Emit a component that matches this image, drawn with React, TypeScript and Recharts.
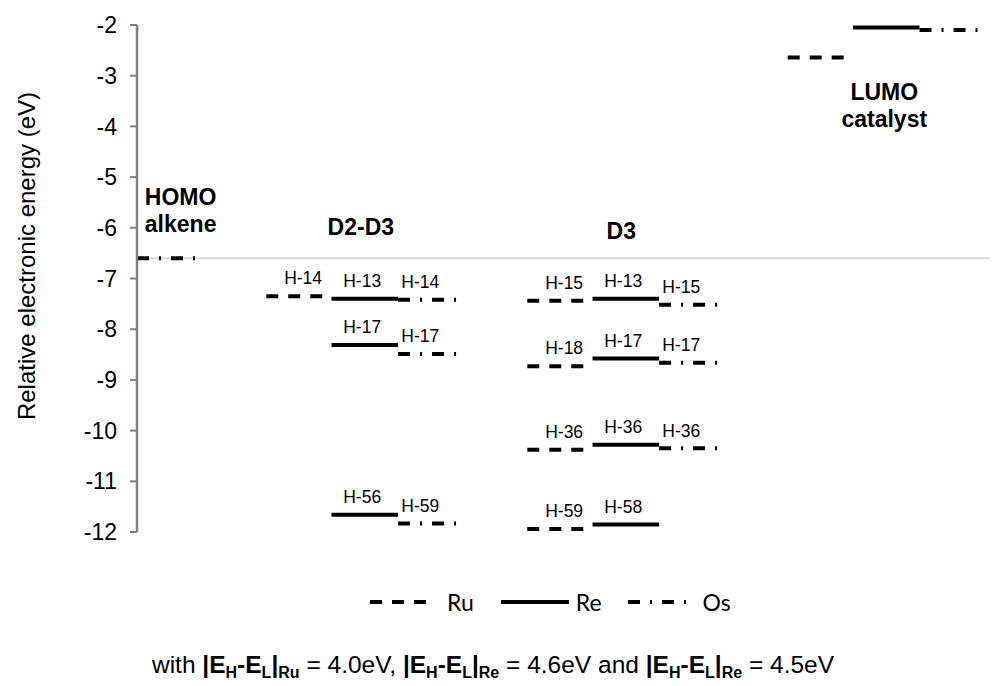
import { LineChart, Line, XAxis, YAxis } from 'recharts'

// x is in "slot" units along the diagram, y is energy in eV
const GROUP_START = [1.98, 5.98, 9.97] // D2-D3, D3, LUMO
const X_MAX = 13.07
const Y_MIN = -12
const Y_MAX = -2
const Y_TICKS = [-12, -11, -10, -9, -8, -7, -6, -5, -4, -3, -2]

const RU_ENERGY = [[-7.35], [-7.44, -8.73, -10.38, -11.94], [-2.64]]
const RU_LABELS = [['H-14'], ['H-15', 'H-18', 'H-36', 'H-59'], []]
const RE_ENERGY = [[-7.4, -8.31, -11.66], [-7.4, -8.58, -10.28, -11.85], [-2.05]]
const RE_LABELS = [['H-13', 'H-17', 'H-56'], ['H-13', 'H-17', 'H-36', 'H-58'], []]
const OS_ENERGY = [[-7.42, -8.49, -11.83], [-7.52, -8.66, -10.35], [-2.1]]
const OS_LABELS = [['H-14', 'H-17', 'H-59'], ['H-15', 'H-17', 'H-36'], []]

const HOMO_ALKENE = -6.6
const HOMO_SPAN = [0, 0.92]

const TITLES = [
  { x: 0.12, y: -5.55, lines: ['HOMO', 'alkene'], anchor: 'start' },
  { x: 3.43, y: -6.14, lines: ['D2-D3'], anchor: 'middle' },
  { x: 7.42, y: -6.22, lines: ['D3'], anchor: 'middle' },
  { x: 11.45, y: -3.48, lines: ['LUMO', 'catalyst'], anchor: 'middle' },
]

const FONT = '"Liberation Sans", Arial, sans-serif'
const AXIS_COLOR = 'rgb(128, 128, 128)'
const RU_DASH = '12 10'
const OS_DASH = '12 10 2 10'

const METALS = [
  { key: 'Ru', energy: RU_ENERGY, labels: RU_LABELS, span: [0, 0.87], dash: RU_DASH, shift: 0.13 },
  { key: 'Re', energy: RE_ENERGY, labels: RE_LABELS, span: [1.0, 2.02], dash: undefined, shift: -0.04 },
  { key: 'Os', energy: OS_ENERGY, labels: OS_LABELS, span: [2.02, 2.92], dash: OS_DASH, shift: -0.11 },
]

const segments: { id: string; dash?: string; data: { x: number; y: number }[] }[] = []
const levelLabels: { x: number; y: number; text: string }[] = []
METALS.forEach((m) => {
  m.energy.forEach((list, g) => {
    list.forEach((e, i) => {
      const x0 = GROUP_START[g] + m.span[0]
      const x1 = GROUP_START[g] + m.span[1]
      segments.push({ id: `${m.key}-${g}-${i}`, dash: m.dash, data: [{ x: x0, y: e }, { x: x1, y: e }] })
      const text = m.labels[g][i]
      if (text) levelLabels.push({ x: (x0 + x1) / 2 + m.shift, y: e, text })
    })
  })
})

// text drawn as the "dots" of invisible line series, so positions come from the chart scales
const LevelLabel = (props: any) => (
  <text key={`lvl-${props.index}`} x={props.cx} y={props.cy - 18} dy="0.355em" textAnchor="middle"
    fontFamily={FONT} fontSize={17.5} fill="#000">
    {props.payload.text}
  </text>
)

const Title = (props: any) => (
  <text key={`ttl-${props.index}`} x={props.cx} y={props.cy} textAnchor={props.payload.anchor}
    fontFamily={FONT} fontSize={23} fontWeight="bold" fill="#000">
    {props.payload.lines.map((l: string, i: number) => (
      <tspan key={l} x={props.cx} dy={i === 0 ? 0 : 27}>{l}</tspan>
    ))}
  </text>
)

const LegendItem = ({ dash, label, width, gap }: { dash?: string; label: string; width: number; gap: number }) => (
  <div style={{ display: 'flex', alignItems: 'center' }}>
    <svg width={width} height={10}>
      <line x1={0} y1={5} x2={width} y2={5} stroke="#000" strokeWidth={4} strokeDasharray={dash} />
    </svg>
    <span style={{ marginLeft: gap }}>{label}</span>
  </div>
)

const sub = { fontSize: 16, verticalAlign: -5 } as const

export default function App() {
  return (
    <div style={{ position: 'absolute', left: 0, top: 0, width: 992, height: 686, background: '#fff' }}>
      <LineChart width={992} height={686} margin={{ top: 25, right: 2, bottom: 154, left: 0 }}>
        <XAxis type="number" dataKey="x" domain={[0, X_MAX]} hide />
        <YAxis
          type="number"
          domain={[Y_MIN, Y_MAX]}
          ticks={Y_TICKS}
          width={137}
          tickSize={7}
          tickMargin={13}
          axisLine={{ stroke: AXIS_COLOR, strokeWidth: 2.5 }}
          tickLine={{ stroke: AXIS_COLOR, strokeWidth: 2 }}
          tick={{ fill: '#000', fontSize: 23, fontFamily: FONT }}
        />
        <Line
          data={[{ x: 0, y: HOMO_ALKENE }, { x: X_MAX, y: HOMO_ALKENE }]}
          dataKey="y" stroke="#d9d9d9" strokeWidth={2} dot={false} isAnimationActive={false}
        />
        <Line
          data={[{ x: HOMO_SPAN[0], y: HOMO_ALKENE }, { x: HOMO_SPAN[1], y: HOMO_ALKENE }]}
          dataKey="y" stroke="#000" strokeWidth={4} strokeDasharray={OS_DASH} dot={false} isAnimationActive={false}
        />
        {segments.map((s) => (
          <Line key={s.id} data={s.data} dataKey="y" stroke="#000" strokeWidth={4}
            strokeDasharray={s.dash} dot={false} isAnimationActive={false} />
        ))}
        <Line data={levelLabels} dataKey="y" stroke="none" dot={LevelLabel} activeDot={false}
          isAnimationActive={false} />
        <Line data={TITLES} dataKey="y" stroke="none" dot={Title} activeDot={false}
          isAnimationActive={false} />
      </LineChart>

      <div style={{ position: 'absolute', left: 27, top: 256, width: 0, height: 0 }}>
        <div style={{ position: 'absolute', transform: 'translate(-50%, -50%) rotate(-90deg)', whiteSpace: 'nowrap',
          fontFamily: FONT, fontSize: 24, lineHeight: '28px', color: '#000' }}>
          Relative electronic energy (eV)
        </div>
      </div>

      <div style={{ position: 'absolute', left: 370, top: 587, height: 30, display: 'flex', alignItems: 'center',
        fontFamily: 'Lato, "Open Sans", sans-serif', fontSize: 23, color: '#000' }}>
        <LegendItem dash={RU_DASH} label="Ru" width={57} gap={20} />
        <div style={{ width: 27 }} />
        <LegendItem label="Re" width={68} gap={7} />
        <div style={{ width: 26 }} />
        <LegendItem dash={OS_DASH} label="Os" width={60} gap={15} />
      </div>

      <div style={{ position: 'absolute', left: 0, top: 650, width: 986, textAlign: 'center',
        fontFamily: FONT, fontSize: 24.5, lineHeight: '30px', color: '#000' }}>
        with <b>|E<span style={sub}>H</span>-E<span style={sub}>L</span>|<span style={sub}>Ru</span></b> = 4.0eV,{' '}
        <b>|E<span style={sub}>H</span>-E<span style={sub}>L</span>|<span style={sub}>Re</span></b> = 4.6eV and{' '}
        <b>|E<span style={sub}>H</span>-E<span style={sub}>L</span>|<span style={sub}>Re</span></b> = 4.5eV
      </div>
    </div>
  )
}
